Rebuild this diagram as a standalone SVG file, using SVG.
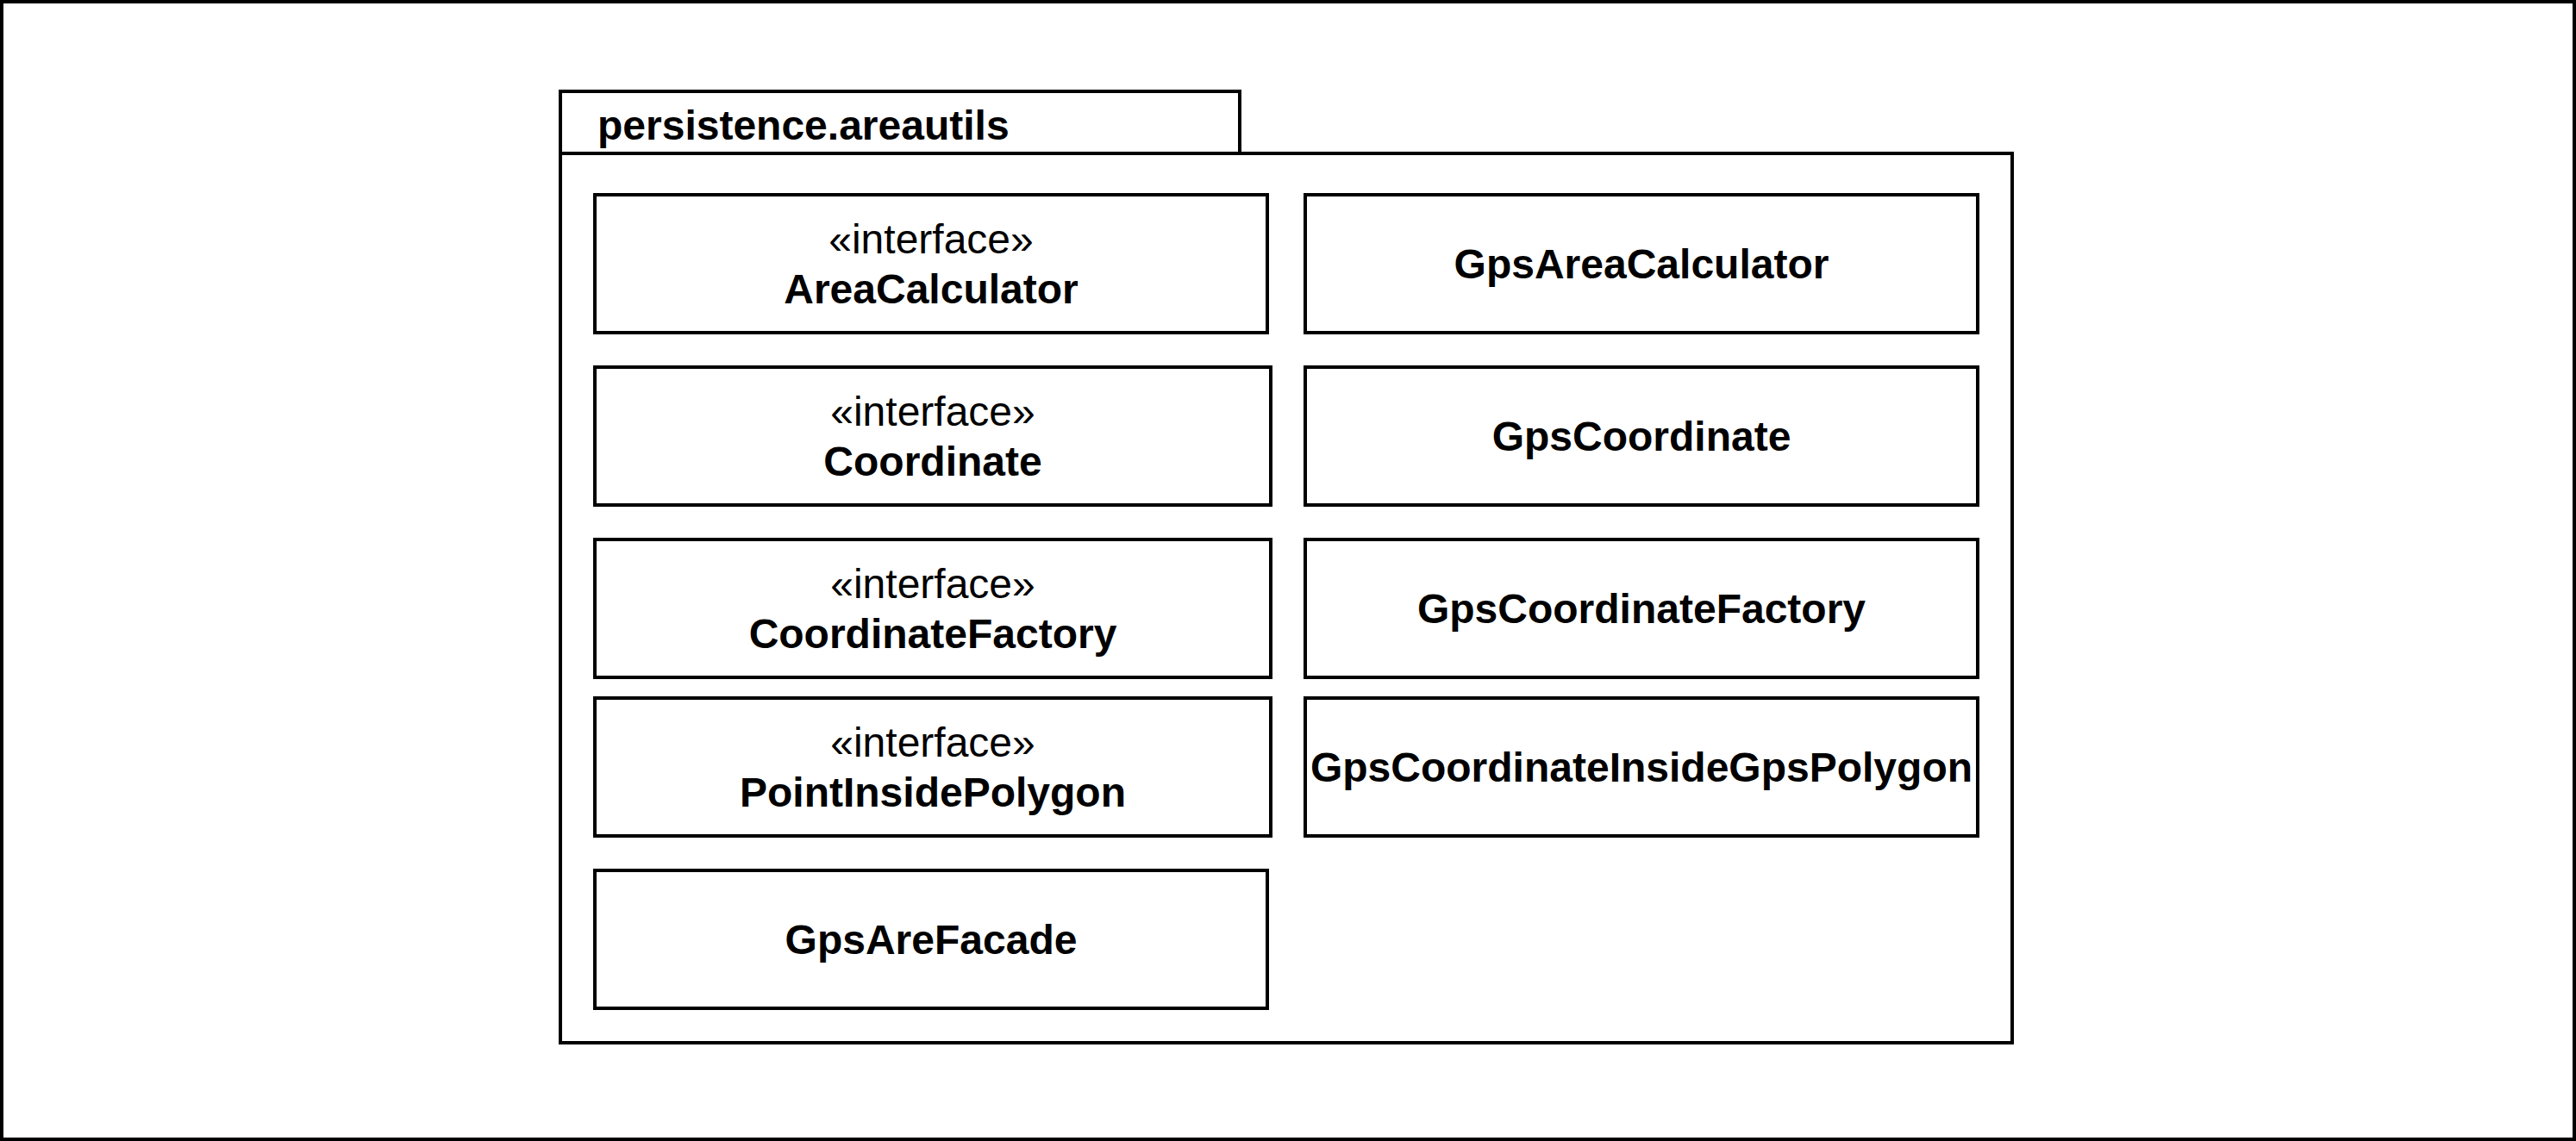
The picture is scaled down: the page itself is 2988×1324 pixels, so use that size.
<svg xmlns="http://www.w3.org/2000/svg" width="2988" height="1324" viewBox="0 0 2988 1324">
<style>
.box{fill:#ffffff;stroke:#000000;stroke-width:4}
.st{font-family:"Liberation Sans",Arial,sans-serif;font-size:48px;fill:#000000;text-anchor:middle}
.nm{font-family:"Liberation Sans",Arial,sans-serif;font-size:48px;font-weight:bold;fill:#000000;text-anchor:middle}
.pk{font-family:"Liberation Sans",Arial,sans-serif;font-size:48px;font-weight:bold;fill:#000000}
</style>
<rect x="0" y="0" width="2988" height="1324" fill="#ffffff"/>
<rect class="box" x="2" y="2" width="2984" height="1320"/>
<g id="package">
<rect class="box" x="650" y="106" width="788" height="72"/>
<rect class="box" x="650" y="178" width="1684" height="1032"/>
<text class="pk" x="693" y="162">persistence.areautils</text>
</g>
<g id="AreaCalculator">
<rect class="box" x="690" y="226" width="780" height="160"/>
<text class="st" x="1080" y="294">«interface»</text>
<text class="nm" x="1080" y="352">AreaCalculator</text>
</g>
<g id="Coordinate">
<rect class="box" x="690" y="426" width="784" height="160"/>
<text class="st" x="1082" y="494">«interface»</text>
<text class="nm" x="1082" y="552">Coordinate</text>
</g>
<g id="CoordinateFactory">
<rect class="box" x="690" y="626" width="784" height="160"/>
<text class="st" x="1082" y="694">«interface»</text>
<text class="nm" x="1082" y="752">CoordinateFactory</text>
</g>
<g id="PointInsidePolygon">
<rect class="box" x="690" y="810" width="784" height="160"/>
<text class="st" x="1082" y="878">«interface»</text>
<text class="nm" x="1082" y="936">PointInsidePolygon</text>
</g>
<g id="GpsAreFacade">
<rect class="box" x="690" y="1010" width="780" height="160"/>
<text class="nm" x="1080" y="1107">GpsAreFacade</text>
</g>
<g id="GpsAreaCalculator">
<rect class="box" x="1514" y="226" width="780" height="160"/>
<text class="nm" x="1904" y="323">GpsAreaCalculator</text>
</g>
<g id="GpsCoordinate">
<rect class="box" x="1514" y="426" width="780" height="160"/>
<text class="nm" x="1904" y="523">GpsCoordinate</text>
</g>
<g id="GpsCoordinateFactory">
<rect class="box" x="1514" y="626" width="780" height="160"/>
<text class="nm" x="1904" y="723">GpsCoordinateFactory</text>
</g>
<g id="GpsCoordinateInsideGpsPolygon">
<rect class="box" x="1514" y="810" width="780" height="160"/>
<text class="nm" x="1904" y="907">GpsCoordinateInsideGpsPolygon</text>
</g>
<g id="connectors"></g>
</svg>
